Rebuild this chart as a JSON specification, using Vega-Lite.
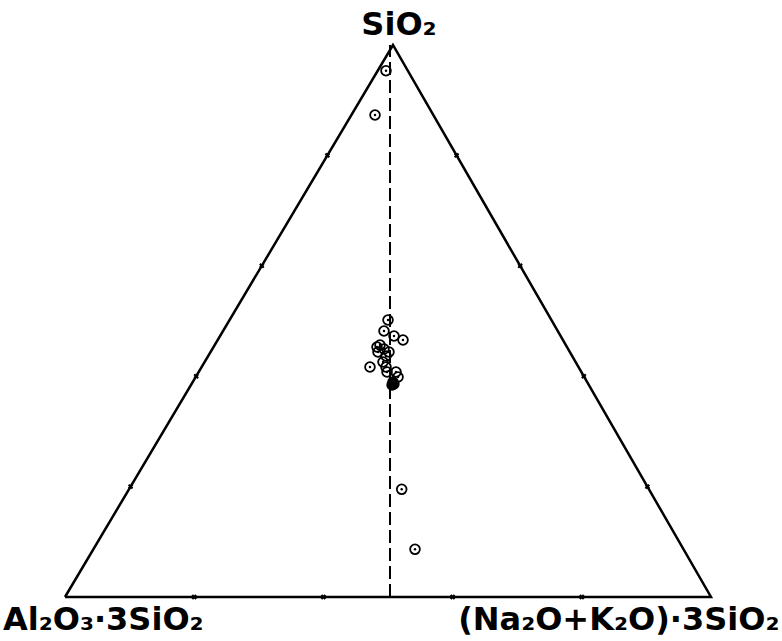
{
  "$schema": "https://vega.github.io/schema/vega-lite/v6.json",
  "width": 646,
  "height": 552,
  "autosize": {"type": "none"},
  "padding": {"left": 65, "top": 45, "right": 71, "bottom": 44},
  "background": "white",
  "config": {"view": {"stroke": null}},
  "datasets": {
    "triangle": [
      {"order": 1, "x": 0, "y": 0},
      {"order": 2, "x": 100, "y": 0},
      {"order": 3, "x": 50.77, "y": 100},
      {"order": 4, "x": 0, "y": 0}
    ],
    "dashed": [
      {"x": 50.31, "y": 0},
      {"x": 50.31, "y": 100}
    ],
    "ticks": [
      {"x": 20, "y": 0}, {"x": 40, "y": 0}, {"x": 60, "y": 0}, {"x": 80, "y": 0},
      {"x": 10.15, "y": 20}, {"x": 20.31, "y": 40}, {"x": 30.46, "y": 60}, {"x": 40.62, "y": 80},
      {"x": 90.15, "y": 20}, {"x": 80.31, "y": 40}, {"x": 70.46, "y": 60}, {"x": 60.62, "y": 80}
    ],
    "samples": [
      {"x": 49.69, "y": 95.34, "kind": "open"},
      {"x": 47.99, "y": 87.32, "kind": "open"},
      {"x": 50.0, "y": 50.18, "kind": "open"},
      {"x": 49.38, "y": 48.19, "kind": "open"},
      {"x": 50.93, "y": 47.28, "kind": "open"},
      {"x": 52.32, "y": 46.56, "kind": "open"},
      {"x": 48.76, "y": 45.65, "kind": "open"},
      {"x": 48.30, "y": 45.29, "kind": "open"},
      {"x": 49.38, "y": 44.93, "kind": "open"},
      {"x": 50.15, "y": 44.38, "kind": "open"},
      {"x": 48.45, "y": 44.38, "kind": "open"},
      {"x": 49.69, "y": 43.66, "kind": "open"},
      {"x": 49.23, "y": 42.57, "kind": "open"},
      {"x": 47.21, "y": 41.67, "kind": "open"},
      {"x": 49.69, "y": 41.67, "kind": "open"},
      {"x": 49.85, "y": 40.76, "kind": "open"},
      {"x": 51.24, "y": 40.76, "kind": "open"},
      {"x": 51.55, "y": 39.86, "kind": "open"},
      {"x": 52.12, "y": 19.51, "kind": "open"},
      {"x": 54.18, "y": 8.64, "kind": "open"},
      {"x": 50.77, "y": 38.95, "kind": "solid"},
      {"x": 50.62, "y": 38.41, "kind": "solid"},
      {"x": 50.93, "y": 38.59, "kind": "solid"}
    ]
  },
  "layer": [
    {
      "data": {"name": "triangle"},
      "mark": {"type": "line", "color": "black", "strokeWidth": 2.5, "strokeJoin": "miter"},
      "encoding": {
        "x": {"field": "x", "type": "quantitative", "scale": {"domain": [0, 100], "nice": false, "zero": false}, "axis": null},
        "y": {"field": "y", "type": "quantitative", "scale": {"domain": [0, 100], "nice": false, "zero": false}, "axis": null},
        "order": {"field": "order"}
      }
    },
    {
      "data": {"name": "dashed"},
      "mark": {"type": "line", "color": "black", "strokeWidth": 2, "strokeDash": [13, 5]},
      "encoding": {
        "x": {"field": "x", "type": "quantitative"},
        "y": {"field": "y", "type": "quantitative"}
      }
    },
    {
      "data": {"name": "ticks"},
      "mark": {"type": "point", "shape": "cross", "angle": 45, "size": 30, "filled": true, "color": "black", "opacity": 1},
      "encoding": {
        "x": {"field": "x", "type": "quantitative"},
        "y": {"field": "y", "type": "quantitative"}
      }
    },
    {
      "data": {"name": "samples"},
      "transform": [{"filter": "datum.kind === 'open'"}],
      "mark": {"type": "point", "shape": "circle", "filled": false, "color": "black", "strokeWidth": 1.8, "size": 95, "opacity": 1},
      "encoding": {
        "x": {"field": "x", "type": "quantitative"},
        "y": {"field": "y", "type": "quantitative"}
      }
    },
    {
      "data": {"name": "samples"},
      "transform": [{"filter": "datum.kind === 'open'"}],
      "mark": {"type": "point", "shape": "circle", "filled": true, "color": "black", "size": 6, "opacity": 1},
      "encoding": {
        "x": {"field": "x", "type": "quantitative"},
        "y": {"field": "y", "type": "quantitative"}
      }
    },
    {
      "data": {"name": "samples"},
      "transform": [{"filter": "datum.kind === 'solid'"}],
      "mark": {"type": "point", "shape": "circle", "filled": true, "color": "black", "size": 130, "opacity": 1},
      "encoding": {
        "x": {"field": "x", "type": "quantitative"},
        "y": {"field": "y", "type": "quantitative"}
      }
    },
    {
      "data": {"values": [{"label": "SiO₂", "x": 50.77, "y": 100}]},
      "mark": {"type": "text", "align": "center", "baseline": "alphabetic", "dx": 6, "dy": -10, "font": "DejaVu Sans", "fontWeight": "bold", "fontSize": 32, "color": "black"},
      "encoding": {
        "x": {"field": "x", "type": "quantitative"},
        "y": {"field": "y", "type": "quantitative"},
        "text": {"field": "label"}
      }
    },
    {
      "data": {"values": [{"label": "Al₂O₃·3SiO₂", "x": -9.6, "y": 0}]},
      "mark": {"type": "text", "align": "left", "baseline": "alphabetic", "dy": 33, "font": "DejaVu Sans", "fontWeight": "bold", "fontSize": 32, "color": "black"},
      "encoding": {
        "x": {"field": "x", "type": "quantitative"},
        "y": {"field": "y", "type": "quantitative"},
        "text": {"field": "label"}
      }
    },
    {
      "data": {"values": [{"label": "(Na₂O+K₂O)·3SiO₂", "x": 110.6, "y": 0}]},
      "mark": {"type": "text", "align": "right", "baseline": "alphabetic", "dy": 33, "font": "DejaVu Sans", "fontWeight": "bold", "fontSize": 32, "color": "black"},
      "encoding": {
        "x": {"field": "x", "type": "quantitative"},
        "y": {"field": "y", "type": "quantitative"},
        "text": {"field": "label"}
      }
    }
  ]
}
